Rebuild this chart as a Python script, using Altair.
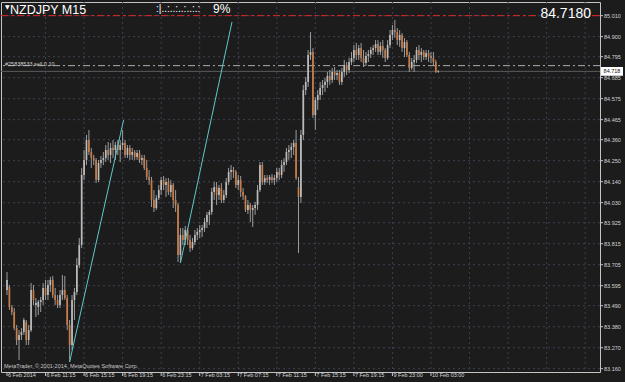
import altair as alt
import pandas as pd

# ---------------- data (NZDJPY M15) ----------------
opens = [83.572,83.588,83.483,83.457,83.373,83.310,83.337,83.352,83.405,83.310,
         83.362,83.572,83.494,83.483,83.510,83.520,83.583,83.546,83.599,83.625,
         83.546,83.520,83.494,83.546,83.572,83.530,83.389,83.284,83.520,83.562,
         83.703,83.808,84.175,84.254,84.358,84.296,84.264,84.254,84.149,84.238,
         84.254,84.264,84.306,84.280,84.317,84.306,84.332,84.306,84.332,84.343,
         84.280,84.317,84.280,84.296,84.269,84.290,84.254,84.264,84.212,84.165,
         84.149,84.044,84.002,84.054,84.096,84.149,84.123,84.138,84.086,84.123,
         84.044,84.018,83.756,83.861,83.834,83.887,83.834,83.792,83.824,83.861,
         83.876,83.887,83.897,83.929,83.966,83.981,84.086,84.112,84.070,84.107,
         84.044,84.070,84.138,84.191,84.201,84.191,84.123,84.149,84.086,84.065,
         83.992,84.018,83.992,84.002,84.018,84.096,84.227,84.138,84.159,84.149,
         84.165,84.149,84.159,84.191,84.175,84.227,84.243,84.296,84.306,84.322,
         84.343,84.112,84.060,84.385,84.620,84.662,84.804,84.820,84.489,84.568,
         84.594,84.631,84.647,84.662,84.694,84.673,84.715,84.699,84.710,84.662,
         84.715,84.751,84.725,84.767,84.788,84.830,84.804,84.840,84.788,84.762,
         84.799,84.809,84.830,84.840,84.861,84.820,84.851,84.830,84.788,84.856,
         84.909,84.935,84.924,84.882,84.909,84.840,84.872,84.804,84.736,84.767,
         84.778,84.830,84.804,84.820,84.793,84.814,84.799,84.788,84.767,84.715]
highs = [83.667,83.599,83.494,83.478,83.389,83.362,83.373,83.426,83.415,83.389,
         83.609,83.599,83.530,83.520,83.536,83.609,83.625,83.625,83.641,83.646,
         83.583,83.546,83.572,83.651,83.646,83.546,83.415,83.546,83.583,83.740,
         83.845,84.212,84.306,84.385,84.411,84.317,84.280,84.264,84.254,84.275,
         84.296,84.332,84.348,84.343,84.358,84.348,84.358,84.358,84.411,84.358,
         84.332,84.332,84.317,84.306,84.306,84.306,84.280,84.280,84.254,84.201,
         84.165,84.096,84.070,84.123,84.165,84.170,84.159,84.159,84.149,84.133,
         84.096,84.028,83.897,83.897,83.908,83.897,83.861,83.845,83.887,83.897,
         83.913,83.913,83.950,83.981,83.992,84.107,84.138,84.138,84.123,84.133,
         84.096,84.159,84.212,84.227,84.217,84.201,84.175,84.170,84.107,84.070,
         84.044,84.028,84.018,84.034,84.123,84.243,84.243,84.175,84.175,84.175,
         84.180,84.175,84.212,84.212,84.254,84.264,84.317,84.332,84.343,84.358,
         84.411,84.165,84.411,84.647,84.689,84.830,84.924,84.840,84.584,84.620,
         84.662,84.673,84.683,84.715,84.725,84.736,84.741,84.725,84.725,84.736,
         84.778,84.767,84.788,84.820,84.856,84.867,84.856,84.867,84.830,84.820,
         84.830,84.846,84.856,84.882,84.882,84.872,84.882,84.840,84.882,84.935,
         84.961,84.987,84.945,84.935,84.919,84.893,84.882,84.820,84.788,84.804,
         84.846,84.856,84.840,84.830,84.830,84.830,84.820,84.820,84.778,84.725]
lows = [83.546,83.468,83.441,83.362,83.284,83.206,83.310,83.337,83.284,83.284,
        83.352,83.494,83.431,83.441,83.457,83.494,83.520,83.520,83.562,83.530,
        83.494,83.478,83.478,83.520,83.520,83.362,83.195,83.258,83.415,83.546,
        83.688,83.792,84.149,84.227,84.280,84.212,84.227,84.133,84.138,84.212,
        84.227,84.243,84.254,84.238,84.264,84.254,84.280,84.243,84.306,84.264,
        84.264,84.254,84.254,84.254,84.254,84.238,84.227,84.201,84.149,84.123,
        84.007,83.981,83.992,84.044,84.070,84.096,84.060,84.070,84.060,84.002,
        83.981,83.719,83.714,83.808,83.808,83.808,83.772,83.782,83.808,83.834,
        83.845,83.850,83.876,83.897,83.913,83.966,84.044,84.018,84.044,84.028,
        84.028,84.054,84.123,84.149,84.159,84.107,84.096,84.060,84.044,83.981,
        83.971,83.929,83.903,83.966,83.992,84.086,84.123,84.123,84.133,84.123,
        84.133,84.123,84.138,84.149,84.159,84.191,84.227,84.254,84.264,84.280,
        84.149,83.766,84.028,84.358,84.594,84.636,84.778,84.474,84.411,84.516,
        84.568,84.594,84.610,84.631,84.647,84.657,84.673,84.673,84.647,84.647,
        84.689,84.699,84.710,84.751,84.767,84.778,84.778,84.767,84.741,84.746,
        84.767,84.788,84.804,84.820,84.804,84.804,84.788,84.767,84.778,84.840,
        84.882,84.893,84.856,84.846,84.820,84.793,84.793,84.715,84.725,84.715,
        84.762,84.778,84.767,84.778,84.778,84.767,84.762,84.751,84.710,84.710]
closes = [83.625,83.483,83.457,83.373,83.310,83.337,83.352,83.415,83.310,83.362,
          83.572,83.520,83.504,83.510,83.520,83.583,83.546,83.599,83.625,83.546,
          83.520,83.494,83.546,83.572,83.530,83.389,83.284,83.520,83.562,83.703,
          83.808,84.175,84.254,84.358,84.296,84.264,84.254,84.149,84.238,84.254,
          84.264,84.306,84.280,84.317,84.306,84.332,84.306,84.332,84.343,84.280,
          84.317,84.280,84.296,84.269,84.290,84.254,84.264,84.212,84.165,84.149,
          84.044,84.002,84.054,84.096,84.149,84.123,84.138,84.086,84.123,84.044,
          84.018,83.756,83.861,83.834,83.887,83.834,83.792,83.824,83.861,83.876,
          83.887,83.897,83.929,83.966,83.981,84.086,84.112,84.070,84.107,84.044,
          84.070,84.138,84.191,84.201,84.191,84.123,84.149,84.086,84.065,83.992,
          84.018,83.992,84.002,84.018,84.096,84.227,84.138,84.159,84.149,84.165,
          84.149,84.159,84.191,84.175,84.227,84.243,84.296,84.306,84.322,84.343,
          84.159,84.060,84.385,84.620,84.662,84.804,84.820,84.489,84.568,84.594,
          84.631,84.647,84.662,84.694,84.673,84.715,84.699,84.710,84.662,84.715,
          84.751,84.725,84.767,84.788,84.830,84.804,84.840,84.788,84.762,84.799,
          84.809,84.830,84.840,84.861,84.820,84.851,84.830,84.788,84.856,84.909,
          84.935,84.924,84.882,84.909,84.840,84.872,84.804,84.736,84.767,84.778,
          84.830,84.804,84.820,84.793,84.814,84.799,84.788,84.767,84.715,84.718]

x_labels = ["6 Feb 2014", "6 Feb 11:15", "6 Feb 15:15", "6 Feb 19:15", "6 Feb 23:15",
            "7 Feb 03:15", "7 Feb 07:15", "7 Feb 11:15", "7 Feb 15:15", "7 Feb 19:15",
            "9 Feb 23:00", "10 Feb 03:00"]
x_label_bars = [0, 16, 32, 48, 64, 80, 96, 112, 128, 144, 160, 176]
grid_bars = [16, 32, 48, 64, 80, 96, 112, 128, 144, 160, 176, 192, 208, 224, 240]
y_ticks = [83.160, 83.270, 83.380, 83.490, 83.595, 83.705, 83.815, 83.925, 84.030,
           84.140, 84.250, 84.360, 84.465, 84.575, 84.685, 84.795, 84.900, 85.010]

last_price = 84.718
order_price = 84.748
alert_price = 85.010
order_label = "#25838533 sell 0.10"

trend_start_bar = [26, 72]
trend_start_price = [83.195, 83.714]
trend_end_bar = [48.4, 93.4]
trend_end_price = [84.463, 84.977]

# ---------------- styling ----------------
BG = "#1c1c1c"
GRID = "#3f3f52"
BULL = "#bcbcbc"
BEAR = "#c87c48"
WICK = "#9c9c9c"
AXIS_TXT = "#d4d4d4"
FRAME = "#c4c4c4"
FONT = "Liberation Sans"

df = pd.DataFrame({"bar": list(range(len(opens))), "open": opens, "high": highs,
                   "low": lows, "close": closes})
trend_rows = []
for k in range(len(trend_start_bar)):
    trend_rows.append({"seg": k, "bar": trend_start_bar[k], "price": trend_start_price[k]})
    trend_rows.append({"seg": k, "bar": trend_end_bar[k], "price": trend_end_price[k]})
trend_df = pd.DataFrame(trend_rows)
ytick_df = pd.DataFrame({"tick": y_ticks, "label": ["%.3f" % v for v in y_ticks]})
xlab_df = pd.DataFrame({"bar": x_label_bars, "label": x_labels})
one = pd.DataFrame({"k": [0]})

xs = alt.Scale(domain=[-0.41, 244.08], nice=False, zero=False)
ys = alt.Scale(domain=[83.1427, 85.0815], nice=False, zero=False)
X = lambda f: alt.X(f, scale=xs, axis=None)
Y = lambda f: alt.Y(f, scale=ys, axis=None)

# grid
vgrid = alt.Chart(pd.DataFrame({"bar": grid_bars})).mark_rule(
    color=GRID, strokeDash=[2, 3], strokeWidth=1, clip=True).encode(x=X("bar:Q"))
hgrid = alt.Chart(ytick_df).mark_rule(
    color=GRID, strokeDash=[2, 3], strokeWidth=1, clip=True).encode(y=Y("tick:Q"))

# price axis (right)
ytick_marks = alt.Chart(ytick_df).mark_rule(color=FRAME, strokeWidth=1).encode(
    y=Y("tick:Q"), x=alt.value(599), x2=alt.value(602))
ytick_text = alt.Chart(ytick_df).mark_text(
    align="left", baseline="middle", fontSize=5.5, font=FONT, color=AXIS_TXT).encode(
    y=Y("tick:Q"), x=alt.value(603), text="label:N")

# time axis (bottom)
xtick_marks = alt.Chart(xlab_df).mark_rule(color=FRAME, strokeWidth=1).encode(
    x=X("bar:Q"), y=alt.value(370), y2=alt.value(374))
xtick_text = alt.Chart(xlab_df).mark_text(
    align="left", baseline="top", dx=1, fontSize=5.5, font=FONT, color=AXIS_TXT).encode(
    x=X("bar:Q"), y=alt.value(371), text="label:N")

# candles
wicks = alt.Chart(df).mark_rule(color=WICK, strokeWidth=1, clip=True).encode(
    x=X("bar:Q"), y=Y("low:Q"), y2="high:Q")
bodies = alt.Chart(df).mark_bar(width=1.7, clip=True).encode(
    x=X("bar:Q"), y=Y("open:Q"), y2="close:Q",
    color=alt.condition("datum.close >= datum.open", alt.value(BULL), alt.value(BEAR)),
)

# horizontal lines
bid_line = alt.Chart(one).mark_rule(color="#5c5c5c", strokeWidth=1).encode(
    y=alt.YDatum(last_price, axis=None))
order_line = alt.Chart(one).mark_rule(color="#ababab", strokeWidth=1,
                                      strokeDash=[7, 3, 2, 3]).encode(
    y=alt.YDatum(order_price, axis=None))
alert_a = alt.Chart(one).mark_rule(color="#e02626", strokeWidth=1,
                                   strokeDash=[7, 3, 3, 3]).encode(
    y=alt.YDatum(alert_price, axis=None), x=alt.value(0), x2=alt.value(536))
alert_b = alt.Chart(one).mark_rule(color="#e02626", strokeWidth=1).encode(
    y=alt.YDatum(alert_price, axis=None), x=alt.value(591), x2=alt.value(599))

trend = alt.Chart(trend_df).mark_line(color="#5fc9c9", strokeWidth=1, clip=True).encode(
    x=X("bar:Q"), y=Y("price:Q"), detail="seg:N")


def txt(s, x, y, size, color="#ffffff", align="left", baseline="alphabetic", font=FONT):
    return alt.Chart(one).mark_text(align=align, baseline=baseline, fontSize=size,
                                    font=font, color=color).encode(
        x=alt.value(x), y=alt.value(y), text=alt.value(s))


price_box = alt.Chart(one).mark_point(
    shape="M-1,-0.4L1,-0.4L1,0.4L-1,0.4Z", filled=True, size=484, color="#ffffff",
    opacity=1, strokeWidth=0).encode(x=alt.value(611), y=alt.YDatum(last_price, axis=None))
price_box_txt = alt.Chart(one).mark_text(fontSize=5.5, font=FONT, color="#111111",
                                         align="center", baseline="middle").encode(
    x=alt.value(611), y=alt.YDatum(last_price, axis=None), text=alt.value("84.718"))

texts = [
    txt("\u25bc", 4, 7, 6, font="DejaVu Sans"),
    txt("NZDJPY M15", 9, 12, 12.5),
    txt(":|..:..:..:..:.:", 155, 10, 10),
    txt("9%", 212, 10.5, 12),
    txt("84.7180", 590, 15.5, 14, align="right"),
    txt(order_label, 4, 64, 5.5, color="#d0d0d0"),
    txt("MetaTrader, \u00a9 2001-2014, MetaQuotes Software Corp.", 3, 364, 5.5,
        color="#c8c8c8", baseline="middle"),
]

chart = alt.layer(
    vgrid, hgrid, bid_line, order_line, alert_a, alert_b, wicks, bodies, trend,
    ytick_marks, ytick_text, xtick_marks, xtick_text,
    price_box, price_box_txt, *texts
).properties(
    width=599, height=370, background=BG, autosize="none",
    padding={"left": 1, "top": 2, "right": 25, "bottom": 10},
).configure_view(stroke=FRAME, strokeWidth=1)

chart.save("out.html", embed_options={"renderer": "svg", "actions": False})
